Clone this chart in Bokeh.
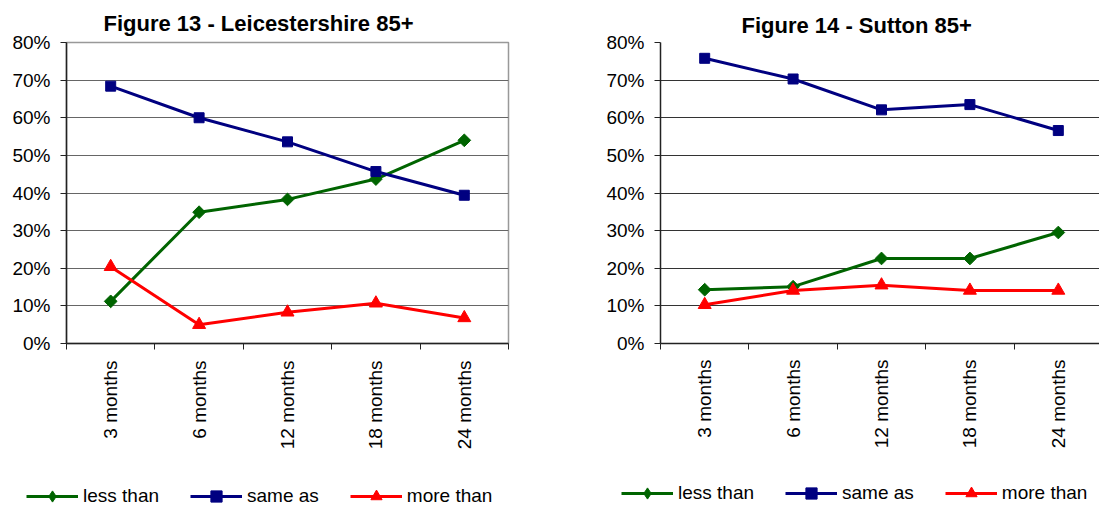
import math
from bokeh.plotting import figure
from bokeh.models import (Range1d, LinearAxis, FixedTicker, NumeralTickFormatter,
                          Legend, LegendItem, Title)
from bokeh.layouts import row, column
from bokeh.embed import file_html
from bokeh.resources import INLINE

# ---------------- data ----------------
categories = ["3 months", "6 months", "12 months", "18 months", "24 months"]
y_ticks = [0.0, 0.1, 0.2, 0.3, 0.4, 0.5, 0.6, 0.7, 0.8]

leic_less = [0.112, 0.349, 0.383, 0.437, 0.540]
leic_same = [0.684, 0.600, 0.536, 0.457, 0.394]
leic_more = [0.204, 0.050, 0.083, 0.107, 0.068]

sutt_less = [0.143, 0.151, 0.226, 0.226, 0.295]
sutt_same = [0.758, 0.703, 0.621, 0.635, 0.566]
sutt_more = [0.103, 0.141, 0.155, 0.141, 0.141]

series_names = ["less than", "same as", "more than"]
series_colors = ["#006400", "#000080", "#FF0000"]
# chart markers (diamond drawn as a square turned 45 degrees)
series_markers = ["square", "square", "triangle"]
series_angles = [math.pi / 4, 0, 0]
series_sizes = [9, 10, 13]
# legend markers
legend_markers = ["diamond", "square", "triangle"]

FONT = "Liberation Sans"


def style_series(p, xs, vals, color, marker, angle, size):
    ln = p.line(xs, vals, line_color=color, line_width=3)
    sc = p.scatter(xs, vals, marker=marker, size=size, angle=angle,
                   fill_color=color, line_color=color)
    return ln, sc


def make_chart(title, values, width, height, mb_left, mb_right, mb_top, frame_h,
               x_end, title_offset, title_standoff, x_standoff, grid_color, outline_color):
    p = figure(width=width, height=height, output_backend="svg", toolbar_location=None,
               x_range=Range1d(0, x_end), y_range=Range1d(0, 0.8),
               min_border_left=mb_left, min_border_right=mb_right,
               min_border_top=mb_top, min_border_bottom=height - mb_top - frame_h,
               x_axis_location=None, y_axis_location=None)
    p.background_fill_color = "white"
    p.border_fill_color = "white"
    p.outline_line_color = outline_color
    p.outline_line_width = 1.5

    p.title = Title(text=title, align="left", offset=title_offset,
                    text_font=FONT, text_font_size="22px", text_font_style="bold",
                    text_color="black", standoff=title_standoff)

    xs = [i + 0.5 for i in range(len(categories))]

    yaxis = LinearAxis(ticker=FixedTicker(ticks=y_ticks, minor_ticks=[]),
                       formatter=NumeralTickFormatter(format="0%"))
    yaxis.major_label_text_font = FONT
    yaxis.major_label_text_font_size = "19px"
    yaxis.major_label_text_color = "black"
    yaxis.major_tick_out = 6
    yaxis.major_tick_in = 0
    yaxis.major_tick_line_color = "#222222"
    yaxis.axis_line_color = "#222222"
    yaxis.axis_line_width = 1.5
    yaxis.major_label_standoff = 10
    p.add_layout(yaxis, "left")

    xaxis = LinearAxis(ticker=FixedTicker(ticks=xs, minor_ticks=list(range(len(categories) + 1))))
    xaxis.major_label_overrides = {x: c for x, c in zip(xs, categories)}
    xaxis.major_label_orientation = math.pi / 2
    xaxis.major_label_text_font = FONT
    xaxis.major_label_text_font_size = "19px"
    xaxis.major_label_text_color = "black"
    xaxis.major_tick_out = 0
    xaxis.major_tick_in = 0
    xaxis.minor_tick_out = 6
    xaxis.minor_tick_in = 0
    xaxis.minor_tick_line_color = "#222222"
    xaxis.axis_line_color = "#222222"
    xaxis.axis_line_width = 1.5
    xaxis.major_label_standoff = x_standoff
    p.add_layout(xaxis, "below")

    p.ygrid.ticker = FixedTicker(ticks=y_ticks)
    p.ygrid.grid_line_color = grid_color
    p.ygrid.grid_line_width = 1.2
    p.xgrid.visible = False

    for vals, color, marker, angle, size in zip(values, series_colors, series_markers,
                                                series_angles, series_sizes):
        style_series(p, xs, vals, color, marker, angle, size)
    return p


def make_legend_fig(width, height, loc):
    p = figure(width=width, height=height, output_backend="svg", toolbar_location=None,
               x_range=Range1d(0, 1), y_range=Range1d(0, 1),
               min_border=0, x_axis_location=None, y_axis_location=None)
    p.outline_line_color = None
    p.background_fill_color = "white"
    p.border_fill_color = "white"
    p.xgrid.visible = False
    p.ygrid.visible = False
    items = []
    for name, color, marker, size in zip(series_names, series_colors, legend_markers,
                                         series_sizes):
        # legend-only renderers: a single empty (NaN) sample, nothing visible is plotted
        ln, sc = style_series(p, [math.nan], [math.nan], color, marker, 0, size)
        items.append(LegendItem(label=name, renderers=[ln, sc]))
    legend = Legend(items=items, orientation="horizontal", location=loc,
                    glyph_width=52, glyph_height=28, label_height=28,
                    label_standoff=5, spacing=31, padding=0, margin=0,
                    label_text_font=FONT, label_text_font_size="19px",
                    label_text_color="black", background_fill_alpha=0,
                    border_line_color=None)
    p.add_layout(legend, "center")
    return p


left = make_chart("Figure 13 - Leicestershire 85+", [leic_less, leic_same, leic_more],
                  width=550, height=466, mb_left=66, mb_right=42, mb_top=42, frame_h=302,
                  x_end=5, title_offset=37, title_standoff=14, x_standoff=11,
                  grid_color="#666666", outline_color="#999999")

right = make_chart("Figure 14 - Sutton 85+", [sutt_less, sutt_same, sutt_more],
                   width=549, height=466, mb_left=110, mb_right=0, mb_top=40, frame_h=303,
                   x_end=4.966, title_offset=81, title_standoff=10, x_standoff=10,
                   grid_color="#333333", outline_color=None)

leg_left = make_legend_fig(550, 40, (26, -4))
leg_right = make_legend_fig(549, 40, (71, -1))

layout = column(row(left, right), row(leg_left, leg_right))
open("out.html", "w").write(file_html(layout, INLINE))
